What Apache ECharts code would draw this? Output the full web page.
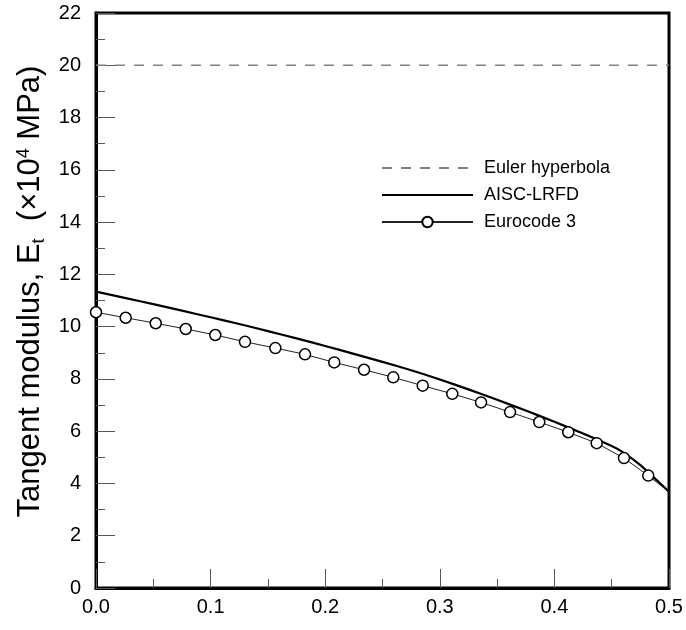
<!DOCTYPE html>
<html>
<head>
<meta charset="utf-8">
<script src="https://cdn.jsdelivr.net/npm/echarts@6/dist/echarts.min.js"></script>
<style>html,body{margin:0;padding:0;background:#fff}#c{width:686px;height:630px}</style>
</head>
<body>
<div id="c"></div>
<script>
// x-axis ticks 0.0 ... 0.5, y-axis ticks 0 ... 22
const xTicks = [0.0, 0.1, 0.2, 0.3, 0.4, 0.5];
const yTicks = [0, 2, 4, 6, 8, 10, 12, 14, 16, 18, 20, 22];

const seriesNames = ['Euler hyperbola', 'AISC-LRFD', 'Eurocode 3'];

// Euler hyperbola (constant)
const eulerX = [0.0, 0.5];
const eulerY = [20, 20];

// AISC-LRFD curve
const aiscX = [0, 0.025, 0.05, 0.075, 0.1, 0.125, 0.15, 0.175, 0.2, 0.225, 0.25, 0.275, 0.3, 0.325, 0.35, 0.375, 0.4, 0.425, 0.45, 0.46, 0.475, 0.5];
const aiscY = [11.34, 11.10, 10.86, 10.61, 10.36, 10.10, 9.83, 9.55, 9.26, 8.96, 8.65, 8.33, 7.98, 7.60, 7.20, 6.79, 6.36, 5.91, 5.43, 5.19, 4.70, 3.68];

// Eurocode 3 (marked points)
const ecX = [0, 0.0259, 0.0521, 0.0783, 0.1041, 0.1300, 0.1565, 0.1824, 0.2079, 0.2339, 0.2594, 0.2851, 0.3109, 0.3360, 0.3613, 0.3868, 0.4121, 0.4369, 0.4607, 0.4819];
const ecY = [10.55, 10.34, 10.13, 9.91, 9.68, 9.42, 9.18, 8.94, 8.63, 8.35, 8.06, 7.74, 7.43, 7.10, 6.73, 6.35, 5.96, 5.54, 4.97, 4.30];
// Eurocode 3 curve end (no marker)
const ecEndX = 0.5;
const ecEndY = 3.68;

const zip = (a, b) => a.map((v, i) => [v, b[i]]);
const ecData = zip(ecX, ecY).map(p => ({ value: p }));
ecData.push({ value: [ecEndX, ecEndY], symbol: 'none' });

const FONT = 'Liberation Sans, Arial, sans-serif';

const chart = echarts.init(document.getElementById('c'), null, { renderer: 'canvas' });
chart.setOption({
  animation: false,
  backgroundColor: '#fff',
  grid: {
    left: 96, right: 17, top: 13, bottom: 42,
    show: true, borderColor: '#000', borderWidth: 3, backgroundColor: 'transparent'
  },
  legend: {
    data: [
      { name: seriesNames[0], itemStyle: { opacity: 0 } },
      { name: seriesNames[1], itemStyle: { opacity: 0 } },
      { name: seriesNames[2] }
    ],
    orient: 'vertical',
    left: 376, top: 154,
    itemWidth: 91, itemHeight: 13, itemGap: 9,
    textStyle: { fontFamily: FONT, fontSize: 18, color: '#000', padding: [0, 0, 0, 6] }
  },
  xAxis: {
    type: 'value', min: 0, max: 0.5, interval: 0.1,
    axisLine: { show: true, lineStyle: { color: '#000', width: 3 } },
    axisTick: { show: true, inside: true, length: 19, lineStyle: { color: '#555', width: 1 } },
    minorTick: { show: true, splitNumber: 2, length: 9, lineStyle: { color: '#555', width: 1 } },
    splitLine: { show: false },
    axisLabel: {
      margin: 9, fontFamily: FONT, fontSize: 20, color: '#000',
      formatter: v => v.toFixed(1)
    }
  },
  yAxis: {
    type: 'value', min: 0, max: 22, interval: 2,
    name: 'Tangent modulus, E{sub|t}  (×10{sup|4} MPa)',
    nameLocation: 'middle', nameGap: 47, nameRotate: 90,
    nameTextStyle: {
      fontFamily: FONT, fontSize: 31, color: '#000', padding: [0, 0, 0, 18],
      rich: {
        sub: { fontFamily: FONT, fontSize: 18, color: '#000', verticalAlign: 'bottom', padding: [0, 0, -2, 0] },
        sup: { fontFamily: FONT, fontSize: 18, color: '#000', verticalAlign: 'top', padding: [0, 0, 11, 0] }
      }
    },
    axisLine: { show: true, lineStyle: { color: '#000', width: 3 } },
    axisTick: { show: true, inside: true, length: 19, lineStyle: { color: '#555', width: 1 } },
    minorTick: { show: true, splitNumber: 2, length: 9, lineStyle: { color: '#555', width: 1 } },
    splitLine: { show: false },
    axisLabel: { margin: 15, fontFamily: FONT, fontSize: 20, color: '#000' }
  },
  series: [
    {
      name: seriesNames[0], type: 'line', data: zip(eulerX, eulerY),
      symbol: 'none', lineStyle: { color: '#808080', width: 1.5, type: [10, 9] },
      itemStyle: { color: '#808080' }
    },
    {
      name: seriesNames[1], type: 'line', data: zip(aiscX, aiscY),
      symbol: 'none', smooth: 0.2, lineStyle: { color: '#000', width: 2.2 },
      itemStyle: { color: '#000' }
    },
    {
      name: seriesNames[2], type: 'line', data: ecData,
      symbol: 'circle', symbolSize: 11, showAllSymbol: true,
      lineStyle: { color: '#222', width: 1 },
      itemStyle: { color: '#fff', borderColor: '#000', borderWidth: 1.5 },
      z: 3
    }
  ]
});
</script>
</body>
</html>
